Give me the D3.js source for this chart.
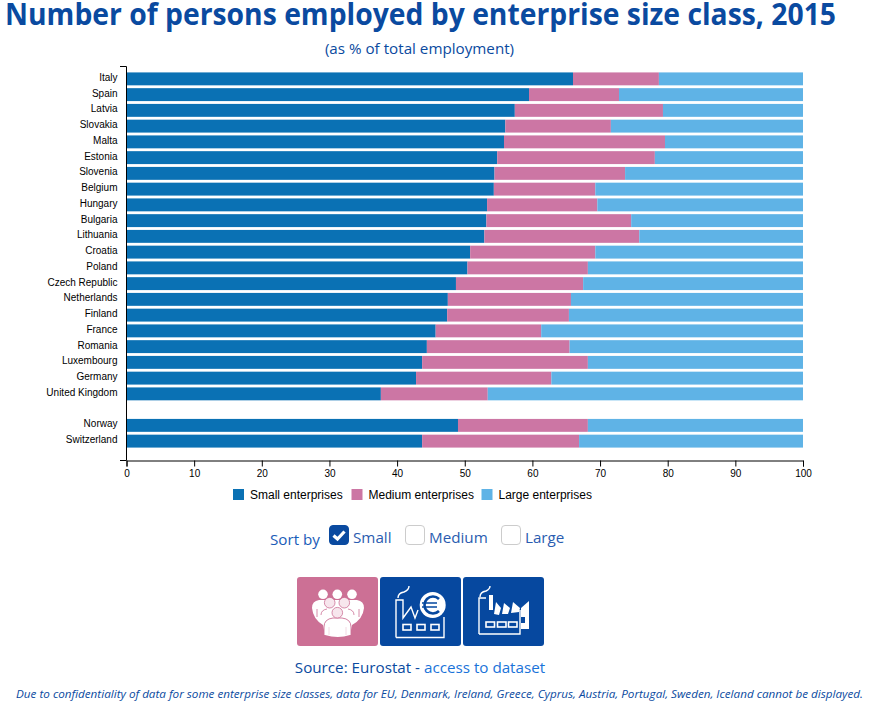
<!DOCTYPE html>
<html>
<head>
<meta charset="utf-8">
<script src="https://cdn.jsdelivr.net/npm/d3@7"></script>
<style>
html, body { margin: 0; padding: 0; background: #fff; }
svg { display: block; }
.ui { font-family: "Open Sans", sans-serif; }
.tick text, .legend text { font-family: "Liberation Sans", Arial, sans-serif; fill: #000; }
</style>
</head>
<body>
<div id="chart"></div>
<script>
// --- DATOS ---
const countries = ["Italy", "Spain", "Latvia", "Slovakia", "Malta", "Estonia", "Slovenia", "Belgium", "Hungary", "Bulgaria", "Lithuania", "Croatia", "Poland", "Czech Republic", "Netherlands", "Finland", "France", "Romania", "Luxembourg", "Germany", "United Kingdom", "", "Norway", "Switzerland"];
const small = [66.0, 59.5, 57.4, 56.0, 55.8, 54.8, 54.4, 54.3, 53.3, 53.2, 52.9, 50.8, 50.4, 48.7, 47.5, 47.4, 45.7, 44.4, 43.7, 42.8, 37.6, 0, 49.0, 43.7];
const medium = [12.7, 13.3, 21.9, 15.6, 23.8, 23.3, 19.3, 15.0, 16.3, 21.4, 22.9, 18.5, 17.8, 18.8, 18.2, 18.0, 15.6, 21.1, 24.5, 20.0, 15.8, 0, 19.2, 23.2];
const large = [21.3, 27.2, 20.7, 28.4, 20.4, 21.9, 26.3, 30.7, 30.4, 25.4, 24.2, 30.7, 31.8, 32.5, 34.3, 34.6, 38.7, 34.5, 31.8, 37.2, 46.6, 0, 31.8, 33.1];
const seriesNames = ["Small enterprises", "Medium enterprises", "Large enterprises"];
const seriesColors = ["#0a71b4", "#cc76a4", "#5fb3e6"];
const xTicks = [0, 10, 20, 30, 40, 50, 60, 70, 80, 90, 100];

const blue = "#0a4aa0";
const width = 871, height = 707;

const svg = d3.select("#chart").append("svg")
    .attr("width", width)
    .attr("height", height);

// --- TITULOS ---
svg.append("text").attr("class", "ui")
    .attr("x", 5).attr("y", 25)
    .attr("textLength", 831).attr("lengthAdjust", "spacingAndGlyphs")
    .attr("font-size", 29.5).attr("font-weight", 700)
    .attr("fill", blue)
    .text("Number of persons employed by enterprise size class, 2015");

svg.append("text").attr("class", "ui")
    .attr("x", 419.5).attr("y", 54)
    .attr("text-anchor", "middle")
    .attr("font-size", 15.2)
    .attr("fill", blue)
    .text("(as % of total employment)");

// --- ESCALAS ---
const x = d3.scaleLinear().domain([0, 100]).range([126.5, 803]);
const y = d3.scaleBand().domain(countries.map((c, i) => i)).range([71, 449])
    .paddingInner(0.18).paddingOuter(0.09);

// Barras apiladas
const rows = countries.map((c, i) => ({ i, s0: small[i], s1: medium[i], s2: large[i] }));
const stack = d3.stack().keys(["s0", "s1", "s2"])(rows);

svg.append("g").selectAll("g").data(stack).join("g")
    .attr("fill", (d, i) => seriesColors[i])
    .selectAll("rect").data(d => d.filter(p => p[1] > p[0])).join("rect")
    .attr("x", d => x(d[0]))
    .attr("y", d => y(d.data.i))
    .attr("width", d => x(d[1]) - x(d[0]))
    .attr("height", y.bandwidth());

// --- EJES ---
const yAxis = svg.append("g")
    .attr("transform", "translate(126.5,0)")
    .call(d3.axisLeft(y).tickSize(0).tickPadding(9).tickFormat(i => countries[i]));
yAxis.select(".domain").remove();
yAxis.selectAll(".tick").filter(i => countries[i] === "").remove();
yAxis.selectAll("text").attr("font-size", 10).attr("y", -1.2);

svg.append("path")
    .attr("d", "M120,66.5H126.5V460.5H120")
    .attr("fill", "none").attr("stroke", "#000");

const xAxis = svg.append("g")
    .attr("transform", "translate(0,460.5)")
    .call(d3.axisBottom(x).tickValues(xTicks).tickSize(6).tickPadding(3));
xAxis.select(".domain").attr("stroke", "#000");
xAxis.selectAll("text").attr("font-size", 10);

// --- LEYENDA ---
const legendX = [233, 351.5, 481.5];
const legend = svg.append("g").attr("class", "legend")
    .selectAll("g").data(seriesNames).join("g")
    .attr("transform", (d, i) => `translate(${legendX[i]},489)`);
legend.append("rect").attr("width", 11).attr("height", 11)
    .attr("fill", (d, i) => seriesColors[i]);
legend.append("text").attr("x", 17).attr("y", 10)
    .attr("font-size", 12).text(d => d);

// --- ORDENAR ---
svg.append("text").attr("class", "ui")
    .attr("x", 270).attr("y", 545)
    .attr("font-size", 15.2).attr("fill", "#1a5cb8")
    .text("Sort by");

const sortOptions = [
    { label: "Small", box: 329, on: true },
    { label: "Medium", box: 405, on: false },
    { label: "Large", box: 501, on: false }
];
const opt = svg.append("g").selectAll("g").data(sortOptions).join("g")
    .attr("transform", d => `translate(${d.box},525)`);
opt.append("rect")
    .attr("x", 0.5).attr("y", 0.5).attr("width", 19).attr("height", 19).attr("rx", 3.5)
    .attr("fill", d => d.on ? blue : "#fff")
    .attr("stroke", d => d.on ? blue : "#ccc");
opt.filter(d => d.on).append("path")
    .attr("d", "M4.5,10.5L8.5,14L15.5,6.5")
    .attr("fill", "none").attr("stroke", "#fff")
    .attr("stroke-width", 3.2);
opt.append("text").attr("class", "ui")
    .attr("x", 24).attr("y", 18)
    .attr("font-size", 15.2).attr("fill", "#2a5cb0")
    .text(d => d.label);

// --- BOTONES CON ICONOS ---
const buttons = [
    { x: 297, fill: "#cc7095", draw: drawPeople },
    { x: 380, fill: "#06489f", draw: drawEuroFactory },
    { x: 463, fill: "#06489f", draw: drawFactory }
];
const btn = svg.append("g").selectAll("g").data(buttons).join("g")
    .attr("transform", d => `translate(${d.x},577)`);
btn.append("rect").attr("width", 81).attr("height", 69).attr("rx", 3)
    .attr("fill", d => d.fill);
btn.each(function (d) { d.draw(d3.select(this)); });

function drawPeople(g) {
    const pink = "#cc7095";
    [[26, 17.3], [40.3, 17.3], [55, 17.3]].forEach(p => g.append("circle")
        .attr("cx", p[0]).attr("cy", p[1]).attr("r", 4.8).attr("fill", "#fff"));
    g.append("path").attr("fill", "#fff")
        .attr("d", "M15,31Q15,24 22,23L60,23Q67,24 67,31Q66,42 55,48L53,58Q41,62 28,58L26,48Q16,42 15,31Z");
    g.append("path").attr("fill", "none").attr("stroke", pink).attr("stroke-width", 0.8)
        .attr("d", "M20,32V40M62,32V40M24,38Q24,33 30,32M57,38Q57,33 51,32");
    [[32.7, 25.7], [47.3, 25.7]].forEach(p => g.append("circle")
        .attr("cx", p[0]).attr("cy", p[1]).attr("r", 5.3)
        .attr("fill", "#f7e6ed").attr("stroke", pink).attr("stroke-width", 0.8));
    g.append("path").attr("fill", "#fff").attr("stroke", pink).attr("stroke-width", 0.9)
        .attr("d", "M27,58V50Q27,42 36,41L45,41Q54,42 54,50V58");
    g.append("circle").attr("cx", 40.3).attr("cy", 35.7).attr("r", 5.3)
        .attr("fill", "#f7e6ed").attr("stroke", pink).attr("stroke-width", 0.8);
    g.append("path").attr("fill", "none").attr("stroke", "#f0d0dd").attr("stroke-width", 0.8)
        .attr("d", "M32,50V58M49,50V58");
}

function drawEuroFactory(g) {
    const o = g.append("g").attr("fill", "none").attr("stroke", "#fff");
    o.append("path").attr("stroke-width", 1.4)
        .attr("d", "M16,60.5V23H23V41L31,30L35,41L38,33M64,40V60.5H16");
    o.append("path").attr("stroke-width", 1.4)
        .attr("d", "M18,21Q18,16 24,15Q29,13 29,9");
    [23, 37, 51].forEach(v => o.append("rect").attr("x", v).attr("y", 47.5).attr("width", 8).attr("height", 5.5).attr("stroke-width", 1.6));
    g.append("circle").attr("cx", 52.7).attr("cy", 28).attr("r", 13).attr("fill", "#fff");
    g.append("path").attr("fill", "none").attr("stroke", "#06489f").attr("stroke-width", 2.6)
        .attr("d", "M59,22A8.5,8.5 0 1 0 59,34");
    g.append("path").attr("stroke", "#06489f").attr("stroke-width", 1.7)
        .attr("d", "M42,26H57M42,30H57");
}

function drawFactory(g) {
    const o = g.append("g").attr("fill", "none").attr("stroke", "#fff");
    o.append("path").attr("stroke-width", 1.4).attr("d", "M16,57V21H23M57,33V57H16");
    o.append("path").attr("stroke-width", 1.4).attr("d", "M17,20Q17,15 23,14Q27,12 27,9");
    g.append("path").attr("fill", "#fff")
        .attr("d", "M26,18H30V33H26ZM31,37L33,25L38,31L36,38ZM39,37L41,26L47,31L45,37ZM48,36L50,25L57,31L56,35ZM58,31L66,24V52H58Z");
    g.append("rect").attr("x", 58).attr("y", 40).attr("width", 4).attr("height", 6).attr("fill", "#06489f");
    [23, 34.5, 45.5].forEach(v => o.append("rect").attr("x", v).attr("y", 45).attr("width", 8.5).attr("height", 5).attr("stroke-width", 1.6));
}

// --- FUENTE ---
const source = svg.append("text").attr("class", "ui")
    .attr("x", 420).attr("y", 673)
    .attr("text-anchor", "middle")
    .attr("font-size", 15.2).attr("fill", blue);
source.append("tspan").text("Source: Eurostat - ");
source.append("tspan").attr("fill", "#1a73d9").text("access to dataset");

svg.append("text").attr("class", "ui")
    .attr("x", 439.5).attr("y", 698)
    .attr("text-anchor", "middle")
    .attr("font-size", 11.68).attr("font-style", "italic")
    .attr("fill", blue)
    .text("Due to confidentiality of data for some enterprise size classes, data for EU, Denmark, Ireland, Greece, Cyprus, Austria, Portugal, Sweden, Iceland cannot be displayed.");
</script>
</body>
</html>
